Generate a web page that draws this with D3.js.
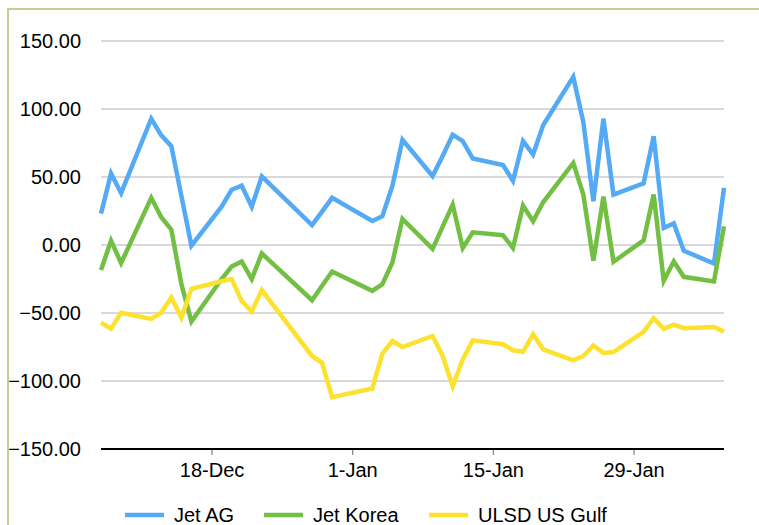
<!DOCTYPE html>
<html>
<head>
<meta charset="utf-8">
<script src="https://cdn.jsdelivr.net/npm/d3@7"></script>
<style>
  html, body { margin: 0; padding: 0; background: #fff; overflow: hidden; }
  text { font-family: "Liberation Sans", Arial, sans-serif; fill: #000; }
</style>
</head>
<body>
<div class="chart"></div>
<script>
// Trading days (Dec 2016 - Feb 2017)
const dates = ["2016-12-07","2016-12-08","2016-12-09","2016-12-12","2016-12-13","2016-12-14","2016-12-15","2016-12-16",
  "2016-12-19","2016-12-20","2016-12-21","2016-12-22","2016-12-23","2016-12-28","2016-12-29","2016-12-30",
  "2017-01-03","2017-01-04","2017-01-05","2017-01-06","2017-01-09","2017-01-10","2017-01-11","2017-01-12","2017-01-13",
  "2017-01-16","2017-01-17","2017-01-18","2017-01-19","2017-01-20","2017-01-23","2017-01-24","2017-01-25","2017-01-26","2017-01-27",
  "2017-01-30","2017-01-31","2017-02-01","2017-02-02","2017-02-03","2017-02-06","2017-02-07"];

const jetAG = [23.1, 52.6, 38.1, 92.9, 80.6, 72.7, 36.0, -0.5,
  28.2, 40.6, 43.7, 28.2, 50.4, 14.6, 24.5, 34.7,
  17.6, 21.2, 43.4, 77.4, 50.7, 65.5, 81.1, 76.4, 63.6,
  58.8, 47.2, 76.4, 66.6, 88.0, 123.6, 90.4, 32.2, 92.9, 37.1,
  45.4, 79.9, 12.5, 15.9, -4.2, -13.6, 42.0];

const jetKorea = [-18.4, 3.2, -13.3, 34.7, 20.4, 11.3, -28.8, -56.3,
  -25.0, -15.8, -12.1, -25.1, -6.2, -40.6, -30.0, -19.5,
  -33.7, -28.8, -12.8, 19.2, -2.9, 13.5, 29.7, -2.2, 9.3,
  7.2, -2.2, 29.0, 17.4, 31.4, 60.3, 37.1, -11.6, 35.6, -12.3,
  3.4, 37.1, -26.3, -12.1, -23.4, -26.8, 13.7];

const ulsdGulf = [-57.1, -61.5, -49.9, -54.4, -49.7, -38.6, -53.4, -32.2,
  -26.7, -25.1, -41.1, -49.0, -33.2, -81.6, -86.6, -111.9,
  -105.5, -79.9, -70.6, -75.0, -66.9, -81.6, -103.8, -84.1, -70.1,
  -73.0, -77.4, -78.5, -65.6, -76.7, -84.8, -81.6, -73.9, -79.4, -78.7,
  -63.9, -53.8, -61.6, -58.6, -61.2, -60.3, -63.7];

const seriesNames = ["Jet AG", "Jet Korea", "ULSD US Gulf"];
const colors = ["#55aaf6", "#72bf44", "#fde12f"];
const yTicks = [-150, -100, -50, 0, 50, 100, 150];
const xTicks = ["2016-12-18", "2017-01-01", "2017-01-15", "2017-01-29"];

var width = 759;
var height = 525;
var padding = {left: 101, right: 35, top: 41, bottom: 76};

var parse = d3.timeParse("%Y-%m-%d");

var svg = d3.select(".chart")
    .append("svg")
    .attr("width", width)
    .attr("height", height)
    .style("display", "block");

// outer chart border: only top and left edges are inside the picture
svg.append("path")
    .attr("d", "M8," + height + "V9H" + width)
    .attr("fill", "none")
    .attr("stroke", "#bcd392")
    .attr("stroke-width", 2);

var xScale = d3.scaleTime()
    .domain([parse("2016-12-07"), parse("2017-02-07")])
    .range([padding.left, width - padding.right]);

var yScale = d3.scaleLinear()
    .domain([-150, 150])
    .range([height - padding.bottom, padding.top]);

// gridlines
svg.append("g")
    .selectAll("line")
    .data(yTicks.filter(function(d){ return d > -150; }))
    .enter()
    .append("line")
    .attr("x1", xScale.range()[0])
    .attr("x2", xScale.range()[1])
    .attr("y1", function(d){ return yScale(d); })
    .attr("y2", function(d){ return yScale(d); })
    .attr("stroke", "#d9d9d9")
    .attr("stroke-width", 2);

// y axis labels
var yAxis = d3.axisLeft(yScale)
    .tickValues(yTicks)
    .tickSize(0)
    .tickPadding(20)
    .tickFormat(d3.format(".2f"));

svg.append("g")
    .attr("transform", "translate(" + padding.left + ",0)")
    .call(yAxis)
    .call(function(g){ g.select(".domain").remove(); })
    .selectAll("text")
    .style("font-size", "20px")
    .attr("font-family", null);

// x axis
var xAxis = d3.axisBottom(xScale)
    .tickValues(xTicks.map(parse))
    .tickSize(6)
    .tickPadding(8)
    .tickFormat(d3.timeFormat("%-d-%b"));

var xg = svg.append("g")
    .attr("transform", "translate(0," + yScale(-150) + ")")
    .call(xAxis);
xg.select(".domain").remove();
xg.selectAll(".tick line").attr("stroke", "#808080").attr("stroke-width", 1.2);
xg.selectAll("text")
    .style("font-size", "20px")
    .attr("font-family", null);

svg.append("line")
    .attr("x1", xScale.range()[0])
    .attr("x2", xScale.range()[1])
    .attr("y1", yScale(-150))
    .attr("y2", yScale(-150))
    .attr("stroke", "#000")
    .attr("stroke-width", 2);

// series lines
var allSeries = [jetAG, jetKorea, ulsdGulf];
var line = d3.line()
    .x(function(d, i){ return xScale(parse(dates[i])); })
    .y(function(d){ return yScale(d); });

svg.append("g")
    .selectAll("path")
    .data(allSeries)
    .enter()
    .append("path")
    .attr("d", function(d){ return line(d); })
    .attr("fill", "none")
    .attr("stroke", function(d, i){ return colors[i]; })
    .attr("stroke-width", 4.5)
    .attr("stroke-linejoin", "miter");

// legend
var legendX = [125, 264, 429];
var legend = svg.append("g")
    .selectAll("g")
    .data(seriesNames)
    .enter()
    .append("g")
    .attr("transform", function(d, i){ return "translate(" + legendX[i] + ",515)"; });

legend.append("line")
    .attr("x1", 0).attr("x2", 39)
    .attr("y1", 0).attr("y2", 0)
    .attr("stroke", function(d, i){ return colors[i]; })
    .attr("stroke-width", 4.5);

legend.append("text")
    .attr("x", 49)
    .attr("y", 7)
    .style("font-size", "20px")
    .text(function(d){ return d; });
</script>
</body>
</html>
